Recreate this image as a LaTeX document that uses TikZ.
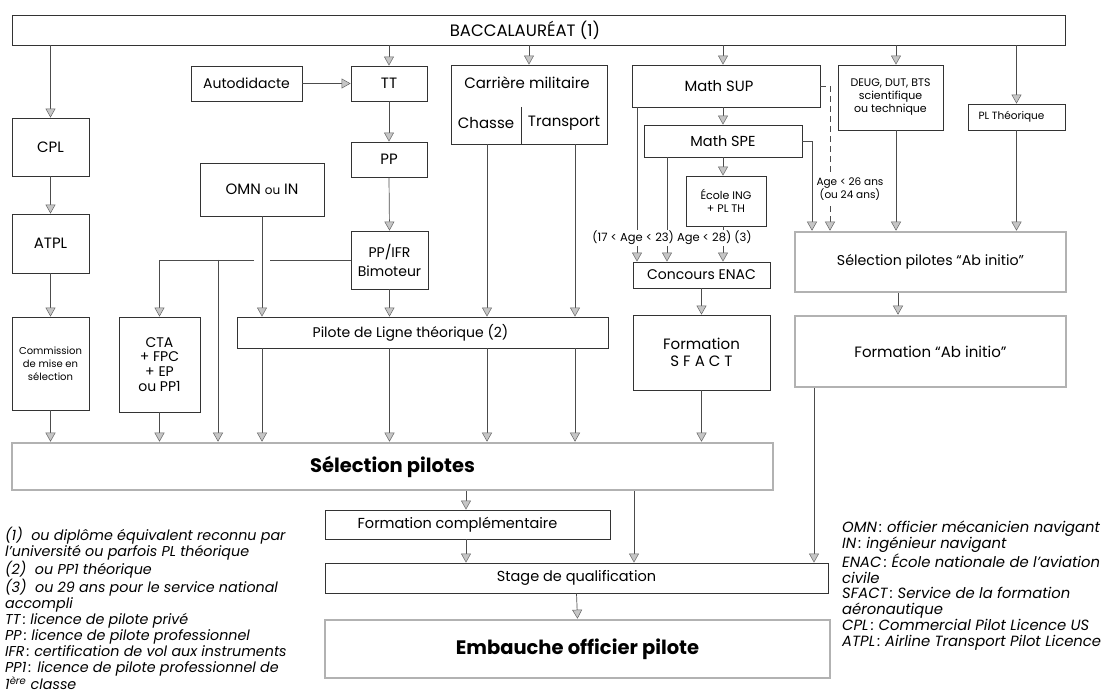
\documentclass[tikz,border=0pt]{standalone}
\usepackage{fontspec}
\setmainfont{Poppins}
\usetikzlibrary{arrows.meta}
\begin{document}
\begin{tikzpicture}[x=1pt,y=-1pt,
  box/.style={draw=black!80, line width=0.9pt, inner sep=1pt, align=center, anchor=center, font=\fontsize{15}{18}\selectfont},
  bbox/.style={box, draw=gray!60, line width=2.6pt},
  smallbox/.style={box, font=\fontsize{10}{13}\selectfont},
  conn/.style={draw=black!70, line width=0.7pt},
  arr/.style={conn, -{Triangle[length=9pt,width=10pt,fill=gray!45,color=black!60,line width=0.5pt]}},
  lab/.style={inner sep=1pt, font=\fontsize{11.5}{13}\selectfont, align=center},
  legend/.style={inner sep=0pt, anchor=north west, align=left, font=\fontsize{14.3}{15.9}\selectfont\itshape}
]
\useasboundingbox (0,0) rectangle (1101,695);

% ---------- boxes ----------
\node[box, minimum width=1053pt, minimum height=30pt] (bac) at (538.5,30) {};
\node[inner sep=0pt, font=\fontsize{16.5}{19}\selectfont] (bactext) at (525,30) {BACCALAURÉAT (1)};

\node[box, minimum width=77pt, minimum height=58pt] (cpl) at (50.5,147) {CPL};
\node[box, minimum width=77pt, minimum height=59pt] (atpl) at (50.5,243.5) {ATPL};
\node[smallbox, minimum width=77pt, minimum height=93pt] (comm) at (50.5,363.5) {Commission\\de mise en\\sélection};

\node[box, minimum width=111pt, minimum height=35pt, font=\fontsize{14}{17}\selectfont] (auto) at (246.5,83.5) {Autodidacte};
\node[box, minimum width=76pt, minimum height=35pt] (tt) at (389,83.5) {TT};
\node[box, minimum width=76pt, minimum height=35pt] (pp) at (389,159.5) {PP};
\node[box, minimum width=77pt, minimum height=58pt, font=\fontsize{14}{19}\selectfont] (ppifr) at (389.5,260) {PP/IFR\\Bimoteur};
\node[box, minimum width=124pt, minimum height=53pt] (omn) at (262,189.5) {OMN {\fontsize{12}{14}\selectfont ou} IN};
\node[box, minimum width=81pt, minimum height=95pt, font=\fontsize{14}{14.8}\selectfont] (cta) at (159.5,364.5) {CTA\\+ FPC\\+ EP\\ou PP1};
\node[box, minimum width=371pt, minimum height=31pt, font=\fontsize{14}{17}\selectfont] (pdl) at (422.5,332.5) {\hspace*{-24pt}Pilote de Ligne théorique (2)};

\node[box, minimum width=156pt, minimum height=79pt] (carr) at (529,104.5) {};
\node[inner sep=0pt, font=\fontsize{15}{18}\selectfont] (carrt) at (527,83) {Carrière militaire};
\node[inner sep=0pt, font=\fontsize{15}{18}\selectfont] (chasse) at (486,123) {Chasse};
\node[inner sep=0pt, font=\fontsize{15}{18}\selectfont] (transp) at (564,123) {Transport};
\coordinate (div) at (521,107);
\draw[draw=black!80, line width=0.8pt] (div) -- (div |- carr.south);

\node[box, minimum width=188pt, minimum height=42pt, font=\fontsize{14.8}{18}\selectfont] (sup) at (726,86) {\hspace*{-14pt}Math SUP};
\node[box, minimum width=158pt, minimum height=32pt, font=\fontsize{14.5}{17}\selectfont] (spe) at (723,141) {Math SPE};
\node[smallbox, minimum width=80pt, minimum height=50pt, font=\fontsize{11}{13.5}\selectfont] (ecole) at (726,201) {École ING\\+ PL TH};
\node[box, minimum width=137pt, minimum height=26pt, font=\fontsize{14}{17}\selectfont] (enac) at (701.5,275) {Concours ENAC};
\node[box, minimum width=137pt, minimum height=75pt, font=\fontsize{15}{17}\selectfont] (sfact) at (701.5,352.5) {Formation\\S F A C T};

\node[smallbox, minimum width=105pt, minimum height=65pt, font=\fontsize{11}{13}\selectfont] (deug) at (890.5,97.5) {DEUG, DUT, BTS\\scientifique\\ou technique};
\node[smallbox, minimum width=97pt, minimum height=26pt, font=\fontsize{10.5}{13}\selectfont] (plt) at (1016.5,117) {\hspace*{-10pt}PL Théorique};
\node[bbox, minimum width=271pt, minimum height=60pt, font=\fontsize{14.2}{17}\selectfont] (selab) at (930.5,262) {Sélection pilotes “Ab initio”};
\node[bbox, minimum width=271pt, minimum height=71pt] (formab) at (930.5,351.5) {Formation “Ab initio”};

\node[bbox, minimum width=761pt, minimum height=47pt, font=\fontsize{19.5}{22}\selectfont\bfseries] (sel) at (392.5,466.5) {Sélection pilotes};
\node[box, minimum width=285pt, minimum height=29pt, font=\fontsize{14.5}{17}\selectfont] (fc) at (467.5,524.5) {\hspace*{-20pt}Formation complémentaire};
\node[box, minimum width=503pt, minimum height=30pt, font=\fontsize{14.5}{17}\selectfont] (stage) at (576.5,578) {Stage de qualification};
\node[bbox, minimum width=505pt, minimum height=58pt, font=\fontsize{19.5}{22}\selectfont\bfseries] (emb) at (577.5,649) {Embauche officier pilote};

% ---------- connectors ----------
\draw[arr] (bac.south -| cpl.north) -- (cpl.north);
\draw[arr] (cpl.south) -- (atpl.north);
\draw[arr] (atpl.south) -- (comm.north);
\draw[arr] (comm.south) -- (comm.south |- sel.north);

\draw[arr] (bac.south -| tt.north) -- (tt.north);
\draw[arr] (auto.east) -- (tt.west);
\draw[arr] (tt.south) -- (pp.north);
\draw[arr] (pp.south) -- (ppifr.north);
\draw[arr] (ppifr.south) -- (ppifr.south |- pdl.north);
\draw[arr] (omn.south) -- (omn.south |- pdl.north);

\draw[conn] (ppifr.west) -- ([xshift=8pt]omn.south |- ppifr.west);
\draw[arr] ([xshift=-8pt]omn.south |- ppifr.west) -- (cta.north |- ppifr.west) -- (cta.north);
\coordinate (br) at (218,0);
\draw[arr] (br |- ppifr.west) -- (br |- sel.north);
\draw[arr] (cta.south) -- (cta.south |- sel.north);

\coordinate (chx) at (487,0);
\coordinate (trx) at (575,0);
\draw[arr] (pdl.south -| omn.south) -- (sel.north -| omn.south);
\draw[arr] (pdl.south -| ppifr.south) -- (sel.north -| ppifr.south);
\draw[arr] (pdl.south -| chx) -- (sel.north -| chx);
\draw[arr] (pdl.south -| trx) -- (sel.north -| trx);

\draw[arr] (bac.south -| carr.north) -- (carr.north);
\draw[arr] (carr.south -| chx) -- (pdl.north -| chx);
\draw[arr] (carr.south -| trx) -- (pdl.north -| trx);

\coordinate (mx) at (723,0);
\coordinate (e1) at (637,0);
\coordinate (e2) at (667,0);
\draw[arr] (bac.south -| mx) -- (sup.north -| mx);
\draw[arr] (sup.south -| mx) -- (spe.north -| mx);
\draw[arr] (spe.south -| mx) -- (ecole.north -| mx);
\draw[arr] (ecole.south -| mx) -- (enac.north -| mx);
\draw[arr] (sup.south -| e1) -- (enac.north -| e1);
\draw[arr] (spe.south -| e2) -- (enac.north -| e2);
\draw[arr] (enac.south) -- (sfact.north);
\draw[arr] (sfact.south) -- (sfact.south |- sel.north);

\coordinate (dx) at (830,0);
\coordinate (sx) at (812,0);
\coordinate (dgx) at (896,0);
\coordinate (abx) at (898,0);
\draw[arr, dash pattern=on 6pt off 4pt] (sup.east) -- (sup.east -| dx) -- (selab.north -| dx);
\draw[arr] (spe.east) -- (spe.east -| sx) -- (selab.north -| sx);
\draw[arr] (bac.south -| dgx) -- (deug.north -| dgx);
\draw[arr] (deug.south -| dgx) -- (selab.north -| dgx);
\draw[arr] (bac.south -| plt.north) -- (plt.north);
\draw[arr] (plt.south) -- (plt.south |- selab.north);
\draw[arr] (selab.south -| abx) -- (formab.north -| abx);

\coordinate (fax) at (814,0);
\coordinate (fcx) at (466,0);
\coordinate (sgx) at (634,0);
\draw[arr] (formab.south -| fax) -- (stage.north -| fax);
\draw[arr] (sel.south -| fcx) -- (fc.north -| fcx);
\draw[arr] (fc.south -| fcx) -- (stage.north -| fcx);
\draw[arr] (sel.south -| sgx) -- (stage.north -| sgx);
\draw[arr] (stage.south) -- (emb.north);

% ---------- labels ----------
\node[lab, fill=white] (agel) at (672,238) {(17 < Age < 23) Age < 28) (3)};
\node[lab, fill=white, font=\fontsize{10.5}{12}\selectfont] (ager) at (850,189) {Age < 26 ans\\(ou 24 ans)};

% ---------- legends ----------
\node[legend] (legl) at (5,527) {(1)\ \ ou diplôme équivalent reconnu par\\
l'université ou parfois PL théorique\\
(2)\ \ ou PP1 théorique\\
(3)\ \ ou 29 ans pour le service national\\
accompli\\
TT\,: licence de pilote privé\\
PP\,: licence de pilote professionnel\\
IFR\,: certification de vol aux instruments\\
PP1\,: licence de pilote professionnel de\\
1\textsuperscript{ère} classe};

\node[legend, font=\fontsize{14.8}{15.8}\selectfont\itshape] (legr) at (842,521) {OMN\,: officier mécanicien navigant\\
IN\,: ingénieur navigant\\
ENAC\,: École nationale de l'aviation\\
civile\\
SFACT\,: Service de la formation\\
aéronautique\\
CPL\,: Commercial Pilot Licence US\\
ATPL\,: Airline Transport Pilot Licence};
\end{tikzpicture}
\end{document}
